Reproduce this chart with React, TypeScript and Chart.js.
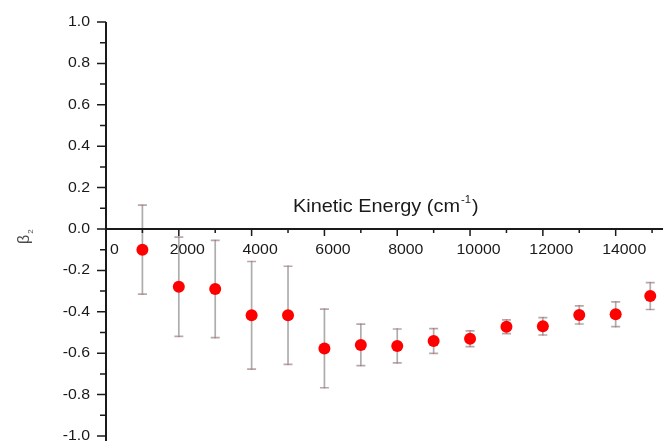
import { useEffect, useRef } from 'react';
import { Chart, registerables } from 'chart.js';

Chart.register(...registerables);

// Kinetic energy (cm^-1)
const energies = [1000, 2000, 3000, 4000, 5000, 6000, 7000, 8000, 9000, 10000, 11000, 12000, 13000, 14000, 14950];
// beta_2 values
const beta2 = [-0.10, -0.279, -0.29, -0.417, -0.417, -0.577, -0.56, -0.565, -0.541, -0.53, -0.472, -0.47, -0.415, -0.412, -0.324];
// symmetric error bars
const beta2Err = [0.215, 0.24, 0.235, 0.26, 0.237, 0.19, 0.10, 0.082, 0.06, 0.038, 0.033, 0.042, 0.044, 0.06, 0.065];

const xMajorTicks = [0, 2000, 4000, 6000, 8000, 10000, 12000, 14000];
const xMinorTicks = [1000, 3000, 5000, 7000, 9000, 11000, 13000, 15000];
const yMajorTicks = [-1.0, -0.8, -0.6, -0.4, -0.2, 0.0, 0.2, 0.4, 0.6, 0.8, 1.0];
const yMinorTicks = [-0.9, -0.7, -0.5, -0.3, -0.1, 0.1, 0.3, 0.5, 0.7, 0.9];

const xTitle = 'Kinetic Energy (cm';
const xTitleSup = '-1';
const xTitleEnd = ')';
const yTitle = 'β';
const yTitleSub = '2';

const FONT = '"Liberation Sans", Arial, sans-serif';
const STRETCH = 1.07;

function txt(ctx: CanvasRenderingContext2D, s: string, x: number, y: number, size: number, align: CanvasTextAlign, baseline: CanvasTextBaseline, color = '#1a1a1a') {
  ctx.save();
  ctx.translate(x, y);
  ctx.scale(STRETCH, 1);
  ctx.font = `${size}px ${FONT}`;
  ctx.fillStyle = color;
  ctx.textAlign = align;
  ctx.textBaseline = baseline;
  ctx.fillText(s, 0, 0);
  ctx.restore();
}

function txtWidth(ctx: CanvasRenderingContext2D, s: string, size: number) {
  ctx.save();
  ctx.font = `${size}px ${FONT}`;
  const w = ctx.measureText(s).width * STRETCH;
  ctx.restore();
  return w;
}

const axesPlugin = {
  id: 'customAxes',
  beforeDatasetsDraw(chart: any) {
    const ctx: CanvasRenderingContext2D = chart.ctx;
    const xs = chart.scales.x;
    const ys = chart.scales.y;
    const area = chart.chartArea;

    // error bars
    ctx.save();
    energies.forEach((e, i) => {
      const px = xs.getPixelForValue(e);
      const top = ys.getPixelForValue(beta2[i] + beta2Err[i]);
      const bot = ys.getPixelForValue(beta2[i] - beta2Err[i]);
      ctx.strokeStyle = '#adadad';
      ctx.lineWidth = 1.7;
      ctx.beginPath();
      ctx.moveTo(px, top);
      ctx.lineTo(px, bot);
      ctx.moveTo(px - 4.5, top);
      ctx.lineTo(px + 4.5, top);
      ctx.moveTo(px - 4.5, bot);
      ctx.lineTo(px + 4.5, bot);
      ctx.stroke();
      ctx.strokeStyle = '#ff5050';
      ctx.lineWidth = 1;
      ctx.beginPath();
      ctx.moveTo(px - 0.8, top);
      ctx.lineTo(px + 0.8, top);
      ctx.moveTo(px - 0.8, bot);
      ctx.lineTo(px + 0.8, bot);
      ctx.stroke();
    });
    ctx.restore();

    // axes
    ctx.save();
    const x0 = area.left;
    const y0 = ys.getPixelForValue(0);
    ctx.strokeStyle = '#1a1a1a';
    ctx.lineWidth = 2;
    ctx.beginPath();
    ctx.moveTo(x0, area.top);
    ctx.lineTo(x0, chart.height);
    ctx.moveTo(x0 - 1, y0);
    ctx.lineTo(chart.width, y0);
    ctx.stroke();

    ctx.lineWidth = 1.5;
    ctx.beginPath();
    yMajorTicks.forEach((v) => {
      const py = ys.getPixelForValue(v);
      ctx.moveTo(x0 - 9, py);
      ctx.lineTo(x0, py);
    });
    yMinorTicks.forEach((v) => {
      const py = ys.getPixelForValue(v);
      ctx.moveTo(x0 - 6, py);
      ctx.lineTo(x0, py);
    });
    xMajorTicks.forEach((v) => {
      const px = xs.getPixelForValue(v);
      if (v === 0) return;
      ctx.moveTo(px, y0);
      ctx.lineTo(px, y0 + 7);
    });
    xMinorTicks.forEach((v) => {
      const px = xs.getPixelForValue(v);
      ctx.moveTo(px, y0);
      ctx.lineTo(px, y0 + 4);
    });
    ctx.stroke();

    // tick labels
    yMajorTicks.forEach((v) => {
      const py = ys.getPixelForValue(v);
      txt(ctx, v.toFixed(1), x0 - 16, py, 14.8, 'right', 'middle');
    });
    xMajorTicks.forEach((v) => {
      const px = xs.getPixelForValue(v);
      txt(ctx, String(v), px + 8.5, y0 + 21, 14.8, 'center', 'middle');
    });

    // x title
    const tx = 293;
    const tb = 212;
    txt(ctx, xTitle, tx, tb, 18.6, 'left', 'alphabetic');
    const w1 = txtWidth(ctx, xTitle, 18.6);
    txt(ctx, xTitleSup, tx + w1 + 1, tb - 9, 10.5, 'left', 'alphabetic');
    const w2 = txtWidth(ctx, xTitleSup, 10.5);
    txt(ctx, xTitleEnd, tx + w1 + w2 + 2, tb, 18.6, 'left', 'alphabetic');

    // y title (rotated)
    ctx.save();
    ctx.translate(29, 244);
    ctx.rotate(-Math.PI / 2);
    ctx.fillStyle = '#4a4a4a';
    ctx.textAlign = 'left';
    ctx.textBaseline = 'alphabetic';
    ctx.font = `16px ${FONT}`;
    ctx.fillText(yTitle, 0, 0);
    const bw = ctx.measureText(yTitle).width;
    ctx.font = `8px ${FONT}`;
    ctx.fillText(yTitleSub, bw + 1, 4);
    ctx.restore();

    ctx.restore();
  },
};

export default function App() {
  const ref = useRef<HTMLCanvasElement>(null);
  useEffect(() => {
    const chart = new Chart(ref.current as HTMLCanvasElement, {
      type: 'scatter',
      data: {
        datasets: [
          {
            data: energies.map((x, i) => ({ x, y: beta2[i] })),
            pointRadius: 6,
            pointHoverRadius: 6,
            backgroundColor: '#ff0000',
            borderWidth: 0,
          },
        ],
      },
      options: {
        responsive: false,
        animation: false,
        layout: { autoPadding: false, padding: { left: 106, top: 22, right: 0, bottom: 5 } },
        scales: {
          x: { type: 'linear', min: 0, max: 15300, display: false },
          y: { type: 'linear', min: -1, max: 1, display: false },
        },
        plugins: { legend: { display: false }, tooltip: { enabled: false } },
      },
      plugins: [axesPlugin],
    });
    return () => chart.destroy();
  }, []);
  return (
    <div style={{ position: 'absolute', left: 0, top: 0, width: 663, height: 441, background: '#fff' }}>
      <canvas ref={ref} width={663} height={441} style={{ width: 663, height: 441 }} />
    </div>
  );
}
